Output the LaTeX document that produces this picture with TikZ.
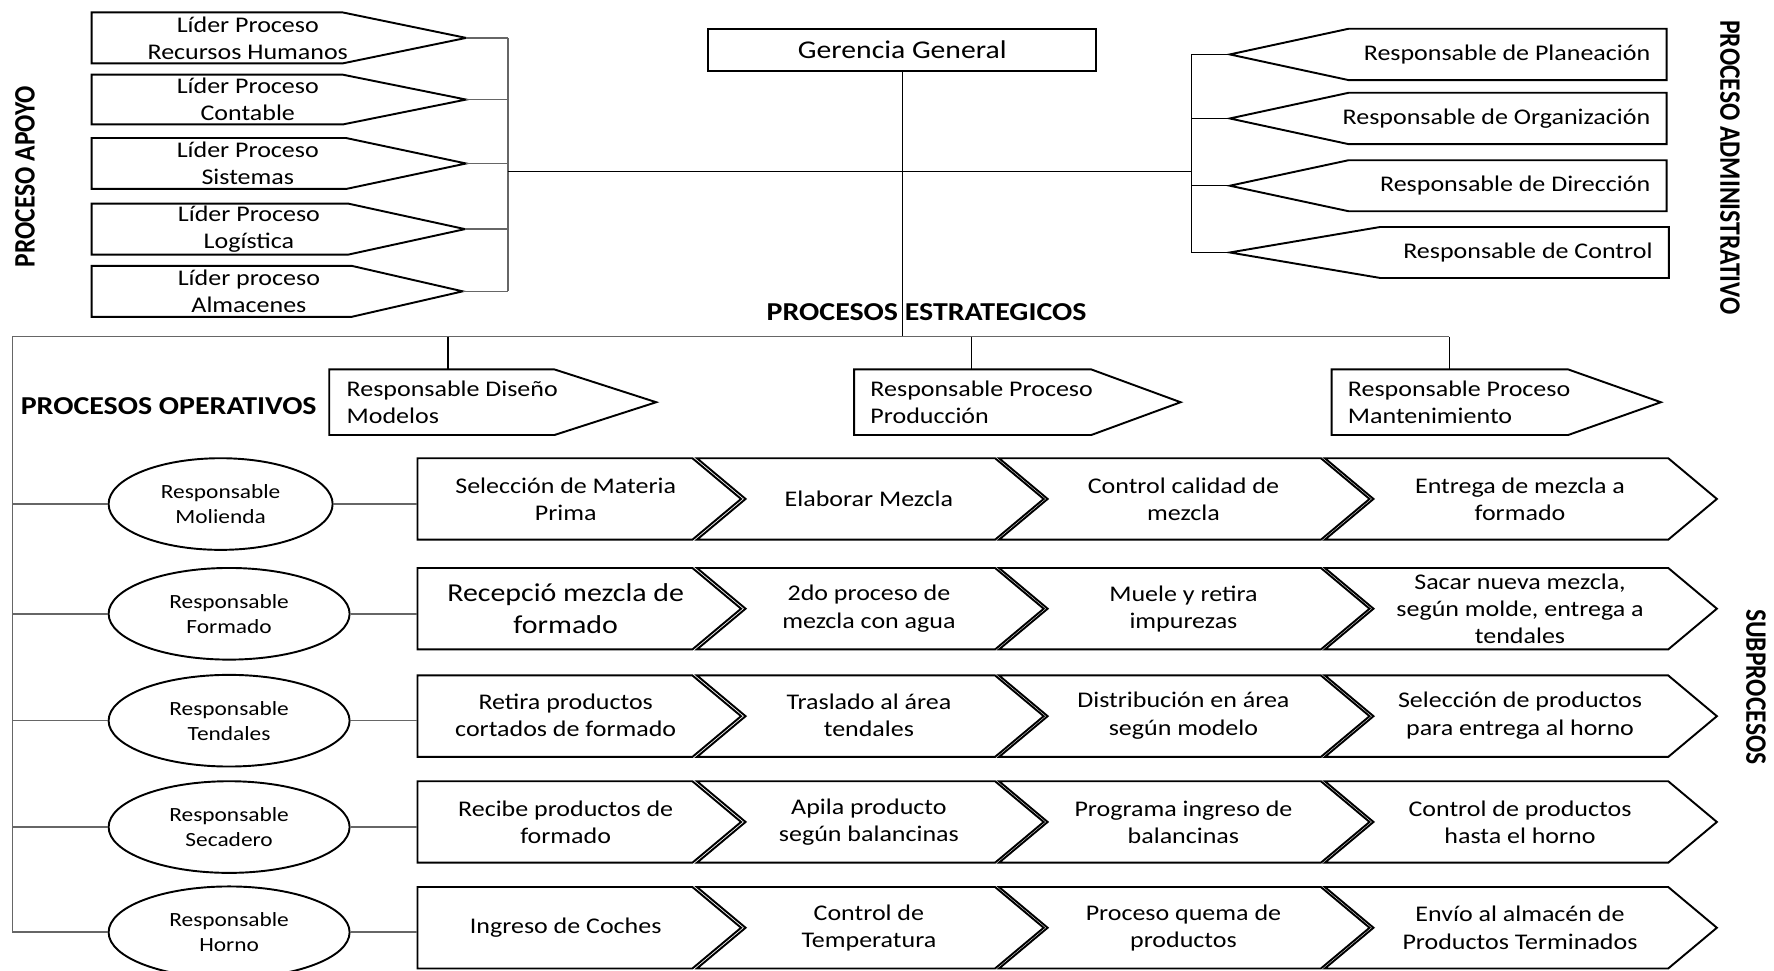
\documentclass[tikz,border=0pt]{standalone}
\usepackage{fontspec}
\setmainfont{Carlito}[FakeStretch=1.16]
\newfontfamily\plainfont{Carlito}
\usetikzlibrary{shapes.geometric}

% pentagon: name, flat side x, top y, bottom y, corner x, tip x
\newcommand\pent[6]{%
  \draw[outline] (#2,#3) -- (#5,#3) -- (#6,{(#3+#4)/2}) -- (#5,#4) -- (#2,#4) -- cycle;
  \coordinate (#1) at (#6,{(#3+#4)/2});}

% one row of four chevrons: tag, top y
\newcommand\chevrow[2]{%
  \draw[outline] (369,#2) -- (612,#2) -- (655,{#2+36}) -- (612,{#2+72}) -- (369,{#2+72}) -- cycle;
  \draw[outline] (616,#2) -- (879.5,#2) -- (922.5,{#2+36}) -- (879.5,{#2+72}) -- (616,{#2+72}) -- (659,{#2+36}) -- cycle;
  \draw[outline] (883,#2) -- (1167.5,#2) -- (1210.5,{#2+36}) -- (1167.5,{#2+72}) -- (883,{#2+72}) -- (926,{#2+36}) -- cycle;
  \draw[outline] (1171,#2) -- (1474.5,#2) -- (1517.5,{#2+36}) -- (1474.5,{#2+72}) -- (1171,{#2+72}) -- (1214,{#2+36}) -- cycle;
  \coordinate (#1in) at (369,{#2+36});}

\begin{document}
\begin{tikzpicture}[x=0.5pt,y=-0.5pt,
  outline/.style={draw=black,line width=0.85pt,line join=miter},
  link/.style={draw=black,line width=0.55pt},
  softlink/.style={draw=black!60,line width=0.7pt},
  txt/.style={inner sep=0pt,align=center,font=\fontsize{9.9}{12}\selectfont},
  bigtxt/.style={inner sep=0pt,align=center,font=\fontsize{11.4}{14}\selectfont},
  ovaltxt/.style={ellipse,draw=black,line width=0.85pt,inner sep=0pt,align=center,
    font=\fontsize{8.9}{11}\selectfont,minimum width=106.5pt,minimum height=40.5pt},
  heading/.style={inner sep=0pt,font=\fontsize{11.4}{14}\selectfont\bfseries},
  sidehead/.style={inner sep=0pt,font=\plainfont\fontsize{11.3}{14}\selectfont\bfseries}]
\useasboundingbox (0,0) rectangle (1568,858);

% ---- support processes (left) ----
\pent{ap1}{81}{11}{56}{303}{412}
\pent{ap2}{81}{66}{110}{303}{412}
\pent{ap3}{81}{122}{167}{306}{412}
\pent{ap4}{81}{180}{225}{308}{411}
\pent{ap5}{81}{235}{280}{311}{409}
\node[txt] (ap1t) at (219,33.5) {Líder Proceso\\Recursos Humanos};
\node[txt] (ap2t) at (219,88) {Líder Proceso\\Contable};
\node[txt] (ap3t) at (219,144.5) {Líder Proceso\\Sistemas};
\node[txt] (ap4t) at (220,202.5) {Líder Proceso\\Logística};
\node[txt] (ap5t) at (220,257.5) {Líder proceso\\Almacenes};
\node[sidehead,rotate=90] (apoyo) at (22,156) {\scalebox{1}[1.16]{PROCESO APOYO}};

\coordinate (brL) at (449,151.4);
\coordinate (brR) at (1053,151.4);
\foreach \k in {1,...,5} \draw[softlink] (ap\k) -- (ap\k -| brL);
\draw[softlink] (ap1 -| brL) -- (ap5 -| brL);

% ---- administrative process (right) ----
\pent{ad1}{1473}{25.4}{70.8}{1192}{1087}
\pent{ad2}{1473}{82}{127.4}{1192}{1087}
\pent{ad3}{1473}{141.6}{186.7}{1192}{1087}
\pent{ad4}{1475}{200.6}{245.7}{1220}{1087}
\node[txt,anchor=east] (ad1t) at (1459,48) {Responsable de Planeación};
\node[txt,anchor=east] (ad2t) at (1459,104.7) {Responsable de Organización};
\node[txt,anchor=east] (ad3t) at (1459,164) {Responsable de Dirección};
\node[txt,anchor=east] (ad4t) at (1461,223) {Responsable de Control};
\node[sidehead,rotate=-90] (admin) at (1529,148) {\scalebox{1}[1.16]{PROCESO ADMINISTRATIVO}};
\foreach \k in {1,...,4} \draw[link] (ad\k) -- (ad\k -| brR);
\draw[link] (ad1 -| brR) -- (ad4 -| brR);

% ---- general management ----
\node[draw=black,line width=1pt,minimum width=171.5pt,minimum height=18.75pt,inner sep=0pt,
  font=\fontsize{11.3}{14}\selectfont] (gg) at (797.5,44.3) {Gerencia General};
\draw[link] (brL) -- (brR);

% ---- strategic processes ----
\node[heading] (estr) at (819,276) {PROCESOS ESTRATEGICOS};
\coordinate (stL) at (11,297.5);
\coordinate (stR) at (1281,297.5);
\draw[link] (gg.south) -- (gg.south |- stL);
\draw[softlink] (stL) -- (stR);
\pent{sp1}{291}{326.5}{384.5}{490}{580}
\pent{sp2}{755}{326.5}{384.5}{964.5}{1043.5}
\pent{sp3}{1177}{326.5}{384.5}{1386}{1468}
\node[txt,anchor=west,align=left] (sp1t) at (306,355.5) {Responsable Diseño\\Modelos};
\node[txt,anchor=west,align=left] (sp2t) at (769,355.5) {Responsable Proceso\\Producción};
\node[txt,anchor=west,align=left] (sp3t) at (1191,355.5) {Responsable Proceso\\Mantenimiento};
\coordinate (sp1top) at (396,326.5);
\coordinate (sp2top) at (859,326.5);
\coordinate (sp3top) at (1281,326.5);
\draw[link] (sp1top |- stL) -- (sp1top);
\draw[link] (sp2top |- stL) -- (sp2top);
\draw[link] (sp3top |- stL) -- (sp3top);

% ---- operative processes ----
\node[heading,anchor=west] (oper) at (18,359) {PROCESOS OPERATIVOS};
\node[ovaltxt,minimum width=99pt] (e1) at (195,445.5) {Responsable\\Molienda};
\node[ovaltxt] (e2) at (202.5,542.5) {Responsable\\Formado};
\node[ovaltxt] (e3) at (202.5,637) {Responsable\\Tendales};
\node[ovaltxt] (e4) at (202.5,731) {Responsable\\Secadero};
\node[ovaltxt] (e5) at (202.5,824) {Responsable\\Horno};
\draw[softlink] (stL) -- (stL |- e5.west);
\foreach \k in {1,...,5} \draw[softlink] (stL |- e\k.west) -- (e\k.west);

\chevrow{r1}{405}
\chevrow{r2}{502}
\chevrow{r3}{597}
\chevrow{r4}{690.5}
\chevrow{r5}{784}
\foreach \k in {1,...,5} \draw[softlink] (e\k.east) -- (e\k.east -| r\k in);

\node[txt] (a1) at (500,441) {Selección de Materia\\Prima};
\node[txt] (a2) at (768,441) {Elaborar Mezcla};
\node[txt] (a3) at (1046,441) {Control calidad de\\mezcla};
\node[txt] (a4) at (1343.5,441) {Entrega de mezcla a\\formado};

\node[bigtxt] (b1) at (500,538) {Recepció mezcla de\\formado};
\node[txt] (b2) at (768,538) {2do proceso de\\mezcla con agua};
\node[txt] (b3) at (1046,538) {Muele y retira\\impurezas};
\node[txt] (b4) at (1343.5,538) {Sacar nueva mezcla,\\según molde, entrega a\\tendales};

\node[txt] (c1) at (500,632.5) {Retira productos\\cortados de formado};
\node[txt] (c2) at (768,632.5) {Traslado al área\\tendales};
\node[txt] (c3) at (1046,632.5) {Distribución en área\\según modelo};
\node[txt] (c4) at (1343.5,632.5) {Selección de productos\\para entrega al horno};

\node[txt] (d1) at (500,726.5) {Recibe productos de\\formado};
\node[txt] (d2) at (768,726.5) {Apila producto\\según balancinas};
\node[txt] (d3) at (1046,726.5) {Programa ingreso de\\balancinas};
\node[txt] (d4) at (1343.5,726.5) {Control de productos\\hasta el horno};

\node[txt] (f1) at (500,820) {Ingreso de Coches};
\node[txt] (f2) at (768,820) {Control de\\Temperatura};
\node[txt] (f3) at (1046,820) {Proceso quema de\\productos};
\node[txt] (f4) at (1343.5,820) {Envío al almacén de\\Productos Terminados};

\node[sidehead,rotate=-90] (subp) at (1552,607) {\scalebox{1}[1.16]{SUBPROCESOS}};
\end{tikzpicture}
\end{document}
